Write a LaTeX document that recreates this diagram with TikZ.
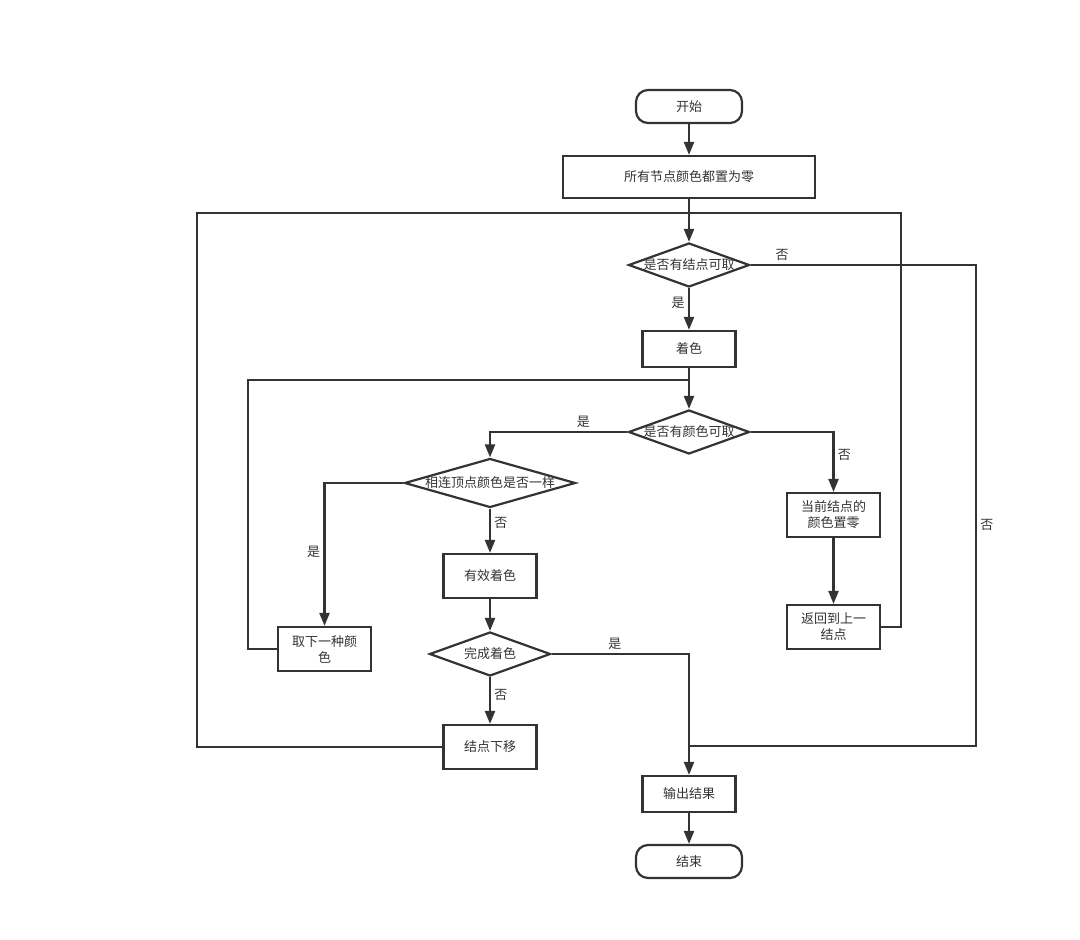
\documentclass[tikz,border=0pt]{standalone}
\usepackage{fontspec}
\setmainfont{Noto Sans CJK SC}
\usetikzlibrary{arrows.meta,shapes.geometric}
\definecolor{linegray}{HTML}{333333}

\begin{document}
\begin{tikzpicture}[x=1pt, y=-1pt, color=linegray, line width=2.2pt,
	every node/.style={font=\fontsize{13}{16}\selectfont, text=linegray},
	>={Triangle[length=13pt,width=10pt]},
	term/.style={draw, rounded corners=12pt, minimum width=106pt, minimum height=33pt, inner sep=0pt},
	proc/.style={draw, minimum width=93pt, minimum height=44pt, inner sep=0pt, align=center},
	dia/.style={draw, diamond, inner sep=0pt, minimum width=121pt, minimum height=44pt}]
	\useasboundingbox (0,0) rectangle (1080,940);
	% nodes
	\node[term] (start) at (689,106.5) {开始};
	\node[proc, minimum width=252pt, minimum height=42pt] (init) at (689,177) {所有节点颜色都置为零};
	\node[dia] (q1) at (689,265) {\makebox[0pt]{是否有结点可取}};
	\node[proc, minimum height=36pt] (color) at (689,349) {着色};
	\node[dia] (q2) at (689,432) {\makebox[0pt]{是否有颜色可取}};
	\node[dia, minimum width=171pt, minimum height=49pt] (q3) at (490,483) {\makebox[0pt]{相连顶点颜色是否一样}};
	\node[proc] (valid) at (490,576) {有效着色};
	\node[dia] (q4) at (490,654) {\makebox[0pt]{完成着色}};
	\node[proc] (next) at (324.5,649) {取下一种颜\\色};
	\node[proc] (down) at (490,747) {结点下移};
	\node[proc] (reset) at (833.5,515) {当前结点的\\颜色置零};
	\node[proc] (back) at (833.5,627) {返回到上一\\结点};
	\node[proc, minimum height=36pt] (output) at (689,794) {输出结果};
	\node[term] (end) at (689,861.5) {结束};
	% main flow
	\draw[->] (start) -- (init);
	\draw[->] (init) -- (q1);
	\draw[->] (q1) -- node[left, pos=0.35] {是} (color);
	\draw[->] (color) -- (q2);
	\draw[->] (q2.west) -| node[above, pos=0.16] {是} (q3.north);
	\draw[->] (q2.east) -| node[right, pos=0.69] {否} (reset.north);
	\draw[->] (q3.west) -| node[left, pos=0.74] {是} (next.north);
	\draw[->] (q3) -- node[right, pos=0.33] {否} (valid);
	\draw[->] (valid) -- (q4);
	\draw[->] (q4) -- node[right, pos=0.39] {否} (down);
	\draw[->] (q4.east) -| node[above, pos=0.23] {是} (output.north);
	\draw[->] (reset) -- (back);
	\draw[->] (output) -- (end);
	% loops back
	\draw (down.west) -- (197,747) |- (901,213) |- (back.east);
	\draw (next.west) -- (248,649) |- (689,380);
	\draw (q1.east) -- node[above, pos=0.14] {否} (976,265) |- node[right, pos=0.27] {否} (689,746);
\end{tikzpicture}
\end{document}
